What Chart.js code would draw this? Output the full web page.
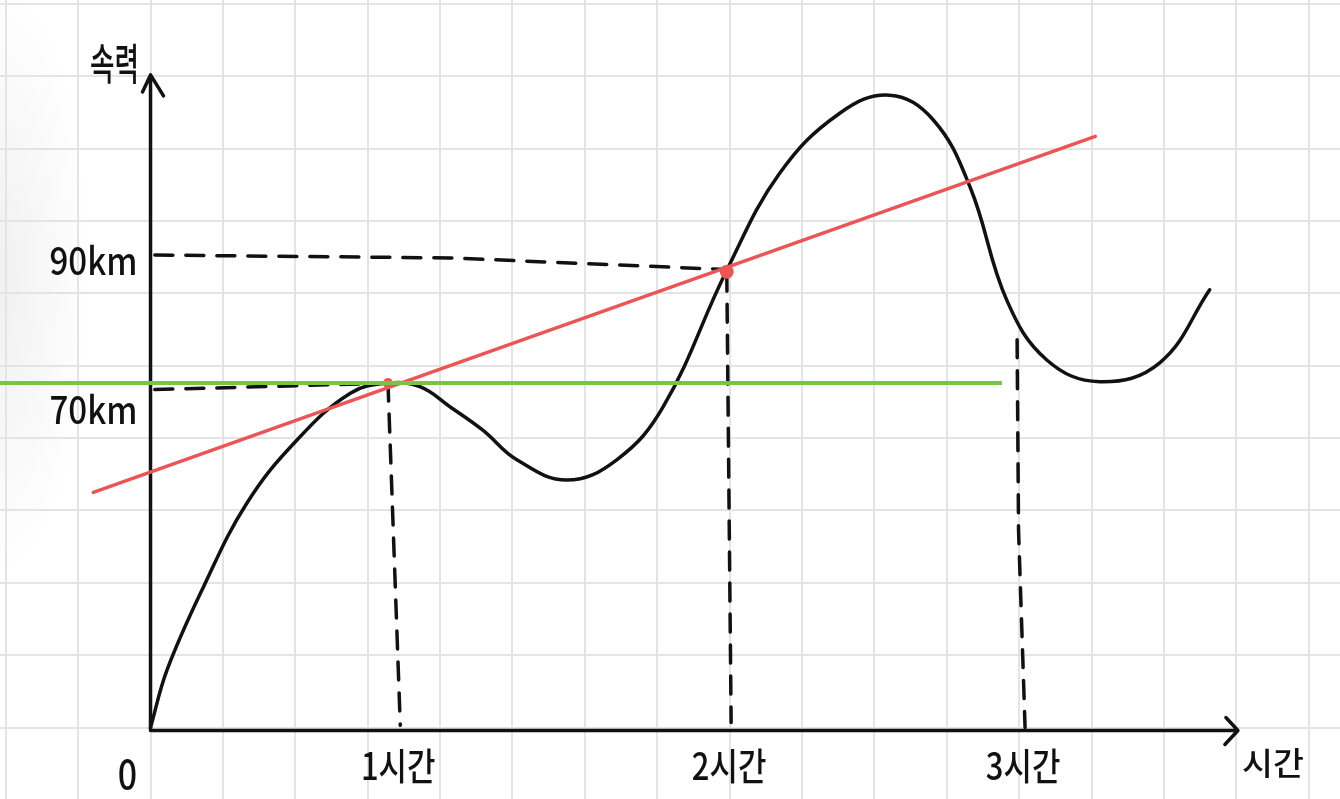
<!DOCTYPE html>
<html lang="ko">
<head>
<meta charset="utf-8">
<title>속력 그래프</title>
<script src="https://cdn.jsdelivr.net/npm/chart.js@4.4.1/dist/chart.umd.min.js"></script>
<style>
  html, body { margin: 0; padding: 0; background: #fff; }
  #wrap {
    position: relative; width: 1340px; height: 799px;
    background: radial-gradient(ellipse 90px 300px at 0px 280px, #f0f0f0 0%, rgba(255,255,255,0) 100%);
  }
</style>
</head>
<body>
<div id="wrap"><canvas id="speedChart"></canvas></div>
<script>
// All values in grid cells, origin where the two axes meet.

// speed curve
const curveX = [0, 0.23, 0.73, 1.33, 2.02, 2.76, 3.27, 3.72, 4.14, 4.59, 5.06, 5.75, 6.44, 7.08,
  7.96, 8.69, 9.52, 10.21, 10.81, 11.32, 11.83, 12.38, 13.11, 13.94, 14.63];
const curveY = [0, 0.80, 1.94, 3.10, 3.97, 4.62, 4.76, 4.71, 4.43, 4.11, 3.70, 3.42, 3.70, 4.43,
  6.32, 7.66, 8.49, 8.74, 8.40, 7.47, 5.90, 5.08, 4.78, 5.04, 6.05];

// red secant line and green tangent line
const secantX = [-0.79, 13.05];
const secantY = [3.25, 8.17];
const tangentX = [-2.08, 11.76];
const tangentY = [4.76, 4.76];

// red marks
const markX = [3.28, 7.96];
const markY = [4.76, 6.30];

// dashed guides
const guide90X = [0.06, 4.14, 7.96];
const guide90Y = [6.53, 6.49, 6.33];
const guide70X = [0.06, 3.28];
const guide70Y = [4.67, 4.76];
const guide1hX = [3.28, 3.45];
const guide1hY = [4.76, 0.03];
const guide2hX = [7.96, 8.02];
const guide2hY = [6.28, 0.07];
const guide3hX = [11.97, 11.99, 12.08];
const guide3hY = [5.36, 2.72, 0];

// axes and labels
const xAxisEnd = 15.02;
const yAxisTop = 9.02;
const xTickValues = [3.45, 8.02, 12.08];
const xTickLabels = ['1시간', '2시간', '3시간'];
const yTickValues = [6.53, 4.69];
const yTickLabels = ['90km', '70km'];
const xTitle = '시간';
const yTitle = '속력';
const originLabel = '0';

const INK = '#111';
const RED = '#ea5656';
const GREEN = '#7cc243';
const FONT = '"Noto Sans CJK KR", "Noto Sans", sans-serif';

function pts(xs, ys) {
  return xs.map((x, i) => ({ x: x, y: ys[i] }));
}

function dashed(xs, ys) {
  return {
    data: pts(xs, ys),
    borderColor: INK,
    borderWidth: 3.5,
    borderDash: [18, 13],
    borderCapStyle: 'round',
    pointRadius: 0,
    tension: 0,
    order: 5
  };
}

function drawText(ctx, text, x, y, size, align, sx, sy) {
  ctx.save();
  ctx.translate(x, y);
  ctx.scale(sx, sy || 1);
  ctx.font = '500 ' + size + 'px ' + FONT;
  ctx.fillStyle = INK;
  ctx.textAlign = align;
  ctx.textBaseline = 'middle';
  ctx.fillText(text, 0, 0);
  ctx.restore();
}

// axes with arrow heads, plus the hand-written labels
const axesPlugin = {
  id: 'axes',
  beforeDatasetsDraw(chart) {
    const { ctx, scales: { x, y } } = chart;
    const ox = x.getPixelForValue(0), oy = y.getPixelForValue(0);
    const tx = x.getPixelForValue(xAxisEnd), ty = y.getPixelForValue(yAxisTop);
    ctx.save();
    ctx.strokeStyle = INK;
    ctx.lineWidth = 3.5;
    ctx.lineCap = 'round';
    ctx.lineJoin = 'round';
    ctx.beginPath();
    ctx.moveTo(ox, oy + 3);
    ctx.lineTo(ox, ty);
    ctx.moveTo(ox - 8, ty + 17);
    ctx.lineTo(ox, ty);
    ctx.lineTo(ox + 13, ty + 21);
    ctx.moveTo(ox, oy + 3);
    ctx.lineTo(tx, oy + 3);
    ctx.moveTo(tx - 12, oy - 10);
    ctx.lineTo(tx, oy + 3);
    ctx.lineTo(tx - 13, oy + 17);
    ctx.stroke();
    ctx.restore();
  },
  afterDraw(chart) {
    const { ctx, scales: { x, y } } = chart;
    const ox = x.getPixelForValue(0), oy = y.getPixelForValue(0);
    const yShift = [6, 21];
    xTickValues.forEach((v, i) => {
      drawText(ctx, xTickLabels[i], x.getPixelForValue(v) - 2, oy + 38, 36, 'center', 0.86, 1.05);
    });
    yTickValues.forEach((v, i) => {
      drawText(ctx, yTickLabels[i], ox - 13, y.getPixelForValue(v) + yShift[i], 36, 'right', 0.92, 1.05);
    });
    drawText(ctx, originLabel, ox - 23, oy + 46, 40, 'center', 0.85);
    drawText(ctx, xTitle, x.getPixelForValue(xAxisEnd) + 35, oy + 35, 32, 'center', 1.05);
    drawText(ctx, yTitle, ox - 36, y.getPixelForValue(yAxisTop) - 11, 36, 'center', 0.74, 1.2);
  }
};

new Chart(document.getElementById('speedChart'), {
  type: 'line',
  data: {
    datasets: [
      {
        data: pts(tangentX, tangentY),
        borderColor: GREEN,
        borderWidth: 4,
        pointRadius: 0,
        tension: 0,
        order: 0
      },
      {
        data: pts(markX, markY),
        showLine: false,
        pointRadius: [5, 7],
        pointBackgroundColor: RED,
        pointBorderWidth: 0,
        order: 1
      },
      {
        data: pts(secantX, secantY),
        borderColor: RED,
        borderWidth: 3.5,
        borderCapStyle: 'round',
        pointRadius: 0,
        tension: 0,
        order: 2
      },
      {
        data: pts(curveX, curveY),
        borderColor: INK,
        borderWidth: 3.5,
        borderCapStyle: 'round',
        pointRadius: 0,
        tension: 0.4,
        order: 3
      },
      dashed(guide90X, guide90Y),
      dashed(guide70X, guide70Y),
      dashed(guide1hX, guide1hY),
      dashed(guide2hX, guide2hY),
      dashed(guide3hX, guide3hY)
    ]
  },
  options: {
    responsive: true,
    maintainAspectRatio: false,
    animation: false,
    layout: { padding: 0, autoPadding: false },
    plugins: {
      legend: { display: false },
      tooltip: { enabled: false }
    },
    scales: {
      x: {
        type: 'linear',
        min: -2.079,
        max: 16.43,
        ticks: { display: false, stepSize: 1, includeBounds: false },
        grid: { color: '#e4e4e4', lineWidth: 2, drawTicks: false },
        border: { display: false }
      },
      y: {
        type: 'linear',
        min: -0.988,
        max: 10.055,
        ticks: { display: false, stepSize: 1, includeBounds: false },
        grid: { color: '#e4e4e4', lineWidth: 2, drawTicks: false },
        border: { display: false }
      }
    }
  },
  plugins: [axesPlugin]
});
</script>
</body>
</html>
